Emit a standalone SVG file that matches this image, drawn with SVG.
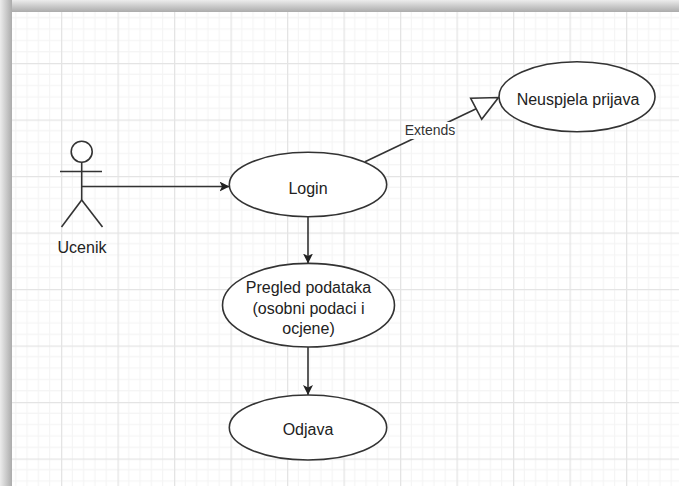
<svg xmlns="http://www.w3.org/2000/svg" width="679" height="486" viewBox="0 0 679 486">
  <defs>
    <linearGradient id="shTop" x1="0" y1="0" x2="0" y2="1">
      <stop offset="0" stop-color="#ececec"/>
      <stop offset="1" stop-color="#ababab"/>
    </linearGradient>
    <linearGradient id="shLeft" x1="0" y1="0" x2="1" y2="0">
      <stop offset="0" stop-color="#ececec"/>
      <stop offset="1" stop-color="#ababab"/>
    </linearGradient>
    <pattern id="grid" patternUnits="userSpaceOnUse" x="61" y="63" width="56.5" height="56.5">
      <path d="M11.3 0V56.5M22.6 0V56.5M33.9 0V56.5M45.2 0V56.5M0 11.3H56.5M0 22.6H56.5M0 33.9H56.5M0 45.2H56.5" stroke="#f4f4f4" stroke-width="1.1" fill="none"/>
      <path d="M0.5 0V56.5M0 0.5H56.5" stroke="#e4e4e4" stroke-width="1.6" fill="none"/>
    </pattern>
    <marker id="arrow" viewBox="0 0 10 10" refX="10" refY="5" markerWidth="10" markerHeight="10" markerUnits="userSpaceOnUse" orient="auto">
      <path d="M0 0L10 5L0 10L2.5 5Z" fill="#222"/>
    </marker>
    <style>
      .uc { fill: #ffffff; stroke: #333333; stroke-width: 1.6; }
      .edge { fill: none; stroke: #333333; stroke-width: 1.6; }
      .lbl { font-family: "Liberation Sans", Arial, sans-serif; font-size: 16px; fill: #222222; text-anchor: middle; }
      .small { font-size: 14px; fill: #333333; }
    </style>
  </defs>

  <!-- window shadow and canvas -->
  <rect x="0" y="0" width="679" height="486" fill="#ffffff"/>
  <rect x="0" y="0" width="679" height="12" fill="url(#shTop)"/>
  <rect x="0" y="0" width="12" height="486" fill="url(#shLeft)"/>
  <rect x="12" y="12" width="667" height="474" fill="#ffffff"/>
  <rect x="12" y="12" width="667" height="474" fill="url(#grid)"/>

  <g id="connectors">
    <line class="edge" x1="82" y1="186.5" x2="229.5" y2="186.5" marker-end="url(#arrow)"/>
    <line class="edge" x1="308" y1="216.7" x2="308" y2="263.5" marker-end="url(#arrow)"/>
    <line class="edge" x1="308" y1="347" x2="308" y2="395" marker-end="url(#arrow)"/>
    <g id="extends">
      <line class="edge" x1="365" y1="161.7" x2="476.2" y2="108.8"/>
      <polygon points="470.7,98.3 481.7,119.3 498.5,97.5" fill="#ffffff" stroke="#333333" stroke-width="1.6" stroke-linejoin="miter"/>
      <rect x="405" y="122" width="50" height="17" fill="#ffffff"/>
      <text class="lbl small" x="430" y="135">Extends</text>
    </g>
  </g>

  <g id="actor-ucenik" fill="none" stroke="#333333" stroke-width="1.6">
    <circle cx="81.7" cy="151.7" r="10.5" fill="#ffffff"/>
    <line x1="81.7" y1="162.2" x2="81.7" y2="200"/>
    <line x1="60" y1="171.5" x2="102" y2="171.5"/>
    <line x1="81.7" y1="200" x2="61.5" y2="227"/>
    <line x1="81.7" y1="200" x2="102.5" y2="227"/>
    <text class="lbl" x="82" y="253" stroke="none" fill="#222222">Ucenik</text>
  </g>

  <g id="uc-login">
    <ellipse class="uc" cx="308" cy="184.5" rx="78.7" ry="32.2"/>
    <text class="lbl" x="308" y="193.5">Login</text>
  </g>

  <g id="uc-neuspjela">
    <ellipse class="uc" cx="577" cy="96.7" rx="78" ry="35"/>
    <text class="lbl" x="578" y="105">Neuspjela prijava</text>
  </g>

  <g id="uc-pregled">
    <ellipse class="uc" cx="308.5" cy="305.2" rx="86" ry="41.8"/>
    <text class="lbl" x="308.5" y="293">Pregled podataka</text>
    <text class="lbl" x="308.5" y="314">(osobni podaci i</text>
    <text class="lbl" x="308.5" y="334">ocjene)</text>
  </g>

  <g id="uc-odjava">
    <ellipse class="uc" cx="308" cy="427.5" rx="78.7" ry="32.5"/>
    <text class="lbl" x="308" y="435">Odjava</text>
  </g>
</svg>
